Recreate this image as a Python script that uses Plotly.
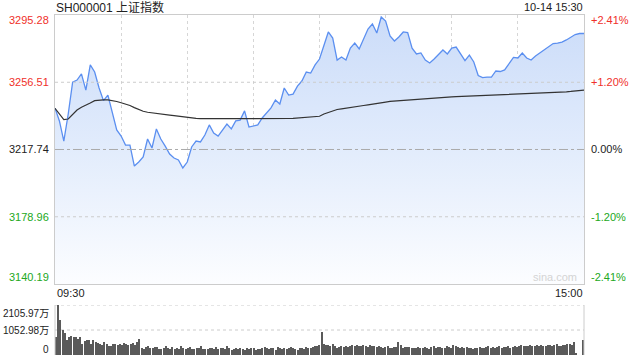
import plotly.graph_objects as go

# ---------------- data ----------------
title_text = "SH000001 上证指数"
date_text = "10-14 15:30"
prev_close = 3217.74
price_ticks = [3295.28, 3256.51, 3217.74, 3178.96, 3140.19]
pct_ticks = ["+2.41%", "+1.20%", "0.00%", "-1.20%", "-2.41%"]
vol_ticks = [2105.97, 1052.98, 0]
vol_tick_labels = ["2105.97万", "1052.98万", "0"]
time_labels = ["09:30", "15:00"]

# minute index (every 2 minutes) for price / average line
price_minutes = list(range(0, 241, 2))
price = [
    3241.6, 3234.2, 3222.6, 3238.2, 3256.6, 3257.8, 3261.3, 3252.0, 3266.5, 3262.4,
    3253.2, 3245.9, 3249.1, 3238.2, 3229.0, 3225.5, 3220.3, 3220.3, 3208.2, 3210.5,
    3213.4, 3223.8, 3218.6, 3229.6, 3223.8, 3219.7, 3215.1, 3212.8, 3211.7, 3207.1,
    3210.5, 3219.2, 3222.6, 3222.1, 3226.1, 3231.9, 3227.2, 3225.5, 3229.0, 3232.4,
    3229.6, 3234.2, 3234.7, 3240.0, 3230.7, 3231.3, 3231.9, 3235.9, 3238.8, 3241.7,
    3246.3, 3244.0, 3253.2, 3249.1, 3249.7, 3254.3, 3257.2, 3262.4, 3261.8, 3266.5,
    3269.9, 3278.3, 3285.5, 3282.0, 3269.3, 3271.1, 3269.3, 3276.2, 3279.1, 3275.7,
    3282.0, 3287.2, 3290.1, 3284.9, 3294.1, 3291.8, 3283.2, 3280.3, 3282.6, 3285.5,
    3285.2, 3276.2, 3272.8, 3273.4, 3269.3, 3267.6, 3269.9, 3272.8, 3275.1, 3272.8,
    3276.2, 3276.8, 3272.8, 3269.0, 3272.2, 3268.2, 3260.4, 3259.2, 3259.5, 3259.5,
    3263.0, 3262.7, 3263.6, 3267.6, 3270.8, 3270.5, 3273.4, 3270.5, 3269.3, 3271.6,
    3273.4, 3275.1, 3276.5, 3278.8, 3279.1, 3279.7, 3280.9, 3282.6, 3284.0, 3284.6,
    3284.6,
]
avg_price = [
    3241.5, 3238.2, 3235.0, 3235.3, 3238.2, 3240.5, 3242.1, 3243.1, 3244.5, 3245.9,
    3246.3, 3246.3, 3246.3, 3246.0, 3245.4, 3244.7, 3244.0, 3243.1, 3241.9, 3240.8,
    3239.8, 3239.2, 3238.8, 3238.5, 3238.2, 3237.9, 3237.6, 3237.3, 3236.9, 3236.6,
    3236.3, 3236.0, 3235.7, 3235.5, 3235.5, 3235.5, 3235.5, 3235.2, 3235.2, 3235.2,
    3235.2, 3235.2, 3235.2, 3235.2, 3235.2, 3235.2, 3235.2, 3235.3, 3235.3, 3235.3,
    3235.3, 3235.3, 3235.3, 3235.6, 3235.7, 3235.9, 3236.0, 3236.2, 3236.3, 3236.6,
    3236.9, 3238.2, 3239.1, 3240.2, 3240.8, 3241.2, 3241.5, 3241.9, 3242.2, 3242.6,
    3243.1, 3243.5, 3244.0, 3244.4, 3244.8, 3245.1, 3245.5, 3245.7, 3246.0, 3246.2,
    3246.4, 3246.7, 3246.8, 3247.0, 3247.2, 3247.3, 3247.4, 3247.6, 3247.8, 3247.9,
    3248.1, 3248.2, 3248.3, 3248.4, 3248.5, 3248.6, 3248.7, 3248.8, 3248.9, 3249.0,
    3249.1, 3249.2, 3249.3, 3249.35, 3249.4, 3249.5, 3249.6, 3249.7, 3249.8, 3249.9,
    3250.0, 3250.1, 3250.3, 3250.4, 3250.6, 3250.7, 3251.0, 3251.2, 3251.5, 3251.7,
    3252.0,
]

# per-minute volume (万)
vol_minutes = list(range(0, 241))
volume = [
    770, 2106, 1474, 1053, 930, 630, 750, 800, 750, 750, 680, 770, 450, 600, 620, 640, 450, 640, 560, 520,
    480, 420, 550, 470, 400, 380, 450, 470, 420, 480, 440, 500, 460, 420, 480, 520, 440, 560, 680, 300,
    260, 320, 380, 280, 300, 340, 320, 260, 240, 300, 360, 280, 240, 320, 260, 300, 240, 360, 280, 260,
    300, 340, 260, 240, 280, 300, 380, 260, 240, 260, 280, 300, 240, 320, 260, 300, 280, 240, 360, 280,
    220, 240, 300, 260, 280, 240, 220, 300, 260, 280, 300, 220, 260, 240, 300, 340, 280, 240, 300, 280,
    220, 320, 280, 260, 300, 240, 280, 340, 300, 260, 220, 300, 280, 260, 320, 280, 300, 340, 360, 400,
    440, 970, 460, 420, 440, 400, 450, 380, 300, 340, 360, 320, 380, 340, 380, 420, 380, 420, 400, 380,
    420, 380, 340, 420, 400, 360, 320, 380, 340, 300, 320, 360, 300, 280, 340, 320, 540, 420, 300, 320,
    340, 320, 280, 300, 280, 320, 300, 280, 340, 300, 260, 340, 360, 300, 320, 340, 280, 300, 380, 320,
    300, 440, 360, 320, 300, 340, 300, 320, 280, 300, 260, 280, 300, 320, 280, 300, 340, 360, 300, 320,
    300, 340, 360, 300, 320, 340, 380, 300, 320, 360, 340, 380, 420, 360, 380, 400, 420, 380, 400, 440,
    380, 420, 400, 380, 420, 440, 400, 420, 460, 380, 400, 440, 420, 460, 480, 420, 560, 80, 0, 0,
    630,
]

# ---------------- layout helpers ----------------
W, H = 640, 360
def px_x(x):
    return x / W
def px_y(y):
    return 1 - y / H

X0, X1 = 55, 584
MAIN_T, MAIN_B = 15, 284
VOL_T, VOL_B = 305, 355

RED = "#f0302a"
GREEN = "#22a822"
DARK = "#222222"
FONT = "Liberation Sans, Arial, sans-serif"

fig = go.Figure()

fig.add_trace(go.Scatter(
    x=[price_minutes[0], price_minutes[-1]], y=[price_ticks[-1], price_ticks[-1]],
    mode="lines", line=dict(width=0, color="rgba(0,0,0,0)"),
    hoverinfo="skip", showlegend=False, xaxis="x", yaxis="y"))
fig.add_trace(go.Scatter(
    x=price_minutes, y=price, mode="lines",
    line=dict(color="#5b8ff0", width=1.3),
    fill="tonexty",
    fillgradient=dict(type="vertical",
                      colorscale=[[0, "rgb(252,253,255)"], [0.5, "rgb(226,236,252)"], [1, "rgb(203,220,249)"]],
                      start=price_ticks[-1], stop=price_ticks[0]),
    showlegend=False, xaxis="x", yaxis="y"))
fig.add_trace(go.Scatter(
    x=price_minutes, y=avg_price, mode="lines",
    line=dict(color="#333333", width=1.2),
    showlegend=False, xaxis="x", yaxis="y"))

fig.add_trace(go.Bar(
    x=vol_minutes, y=volume, width=0.5,
    marker=dict(color="#5a5a5a", line=dict(width=0)),
    showlegend=False, xaxis="x2", yaxis="y2"))

shapes = []
for p in price_ticks[1:-1]:
    is_zero = abs(p - prev_close) < 1e-6
    shapes.append(dict(type="line", xref="paper", yref="y",
                       x0=px_x(X0), x1=px_x(X1), y0=p, y1=p,
                       line=dict(color="#aaaaaa" if is_zero else "#cccccc", width=1,
                                 dash="dashdot" if is_zero else "dot"), layer="above"))
for v in vol_ticks[:-1]:
    shapes.append(dict(type="line", xref="paper", yref="y2",
                       x0=px_x(X0), x1=px_x(X1), y0=v, y1=v,
                       line=dict(color="#cccccc", width=1, dash="dot"), layer="below"))
for xx in (X0, X1):
    shapes.append(dict(type="line", xref="paper", yref="paper",
                       x0=px_x(xx), x1=px_x(xx), y0=px_y(VOL_T), y1=px_y(VOL_B),
                       line=dict(color="#cccccc", width=1)))

annotations = []
ann_font = dict(family=FONT, size=11)
label_colors = [RED, RED, DARK, GREEN, GREEN]
label_shift = [-5, 0, 0, 0, 7]
for p, pct, c, s in zip(price_ticks, pct_ticks, label_colors, label_shift):
    annotations.append(dict(xref="paper", yref="y", x=px_x(51), y=p, yshift=s,
                            text=f"{p:.2f}", showarrow=False, xanchor="right", yanchor="middle",
                            font=dict(ann_font, color=c)))
    annotations.append(dict(xref="paper", yref="y", x=px_x(589), y=p, yshift=s,
                            text=pct, showarrow=False, xanchor="left", yanchor="middle",
                            font=dict(ann_font, color=c)))
vol_shift = [-8, 0, 6]
for v, t, s in zip(vol_ticks, vol_tick_labels, vol_shift):
    annotations.append(dict(xref="paper", yref="y2", x=px_x(51), y=v, yshift=s,
                            text=t, showarrow=False, xanchor="right", yanchor="middle",
                            font=dict(family=FONT + ", Noto Sans CJK SC", size=10, color=DARK)))
annotations.append(dict(xref="paper", yref="paper", x=px_x(55), y=px_y(293),
                        text=time_labels[0], showarrow=False, xanchor="left", yanchor="middle",
                        font=dict(ann_font, color=DARK)))
annotations.append(dict(xref="paper", yref="paper", x=px_x(585), y=px_y(293),
                        text=time_labels[1], showarrow=False, xanchor="right", yanchor="middle",
                        font=dict(ann_font, color=DARK)))
annotations.append(dict(xref="paper", yref="paper", x=px_x(54), y=px_y(7),
                        text=title_text, showarrow=False, xanchor="left", yanchor="middle",
                        font=dict(family=FONT + ", Noto Sans CJK SC", size=12, color=DARK)))
annotations.append(dict(xref="paper", yref="paper", x=px_x(585), y=px_y(7),
                        text=date_text, showarrow=False, xanchor="right", yanchor="middle",
                        font=dict(ann_font, color=DARK)))
annotations.append(dict(xref="paper", yref="paper", x=px_x(579), y=px_y(277),
                        text="sina.com", showarrow=False, xanchor="right", yanchor="middle",
                        font=dict(family=FONT, size=11, color="#d4d4d4")))

fig.update_layout(
    width=W, height=H,
    margin=dict(l=0, r=0, t=0, b=0),
    paper_bgcolor="white", plot_bgcolor="white",
    showlegend=False,
    bargap=0,
    xaxis=dict(domain=[px_x(X0), px_x(X1)], range=[0, 240], anchor="y",
               tickvals=[30, 60, 90, 120, 150, 180, 210], showticklabels=False,
               ticks="", showgrid=True, gridcolor="#d6d6d6", griddash="dot", gridwidth=1,
               zeroline=False, showline=True, mirror=True, linecolor="#cccccc", linewidth=1),
    yaxis=dict(domain=[px_y(MAIN_B), px_y(MAIN_T)], range=[price_ticks[-1], price_ticks[0]],
               anchor="x", showticklabels=False, ticks="", showgrid=False, zeroline=False,
               showline=True, mirror=True, linecolor="#cccccc", linewidth=1),
    xaxis2=dict(domain=[px_x(X0), px_x(X1)], range=[-0.5, 240.5], anchor="y2",
                showticklabels=False, ticks="", showgrid=False, zeroline=False, showline=False),
    yaxis2=dict(domain=[px_y(VOL_B), px_y(VOL_T)], range=[0, vol_ticks[0]], anchor="x2",
                showticklabels=False, ticks="", showgrid=False, zeroline=False, showline=False),
    shapes=shapes, annotations=annotations,
    hovermode=False,
)

fig.write_html(
    "out.html",
    config={"displayModeBar": False},
    post_script="document.body.style.margin='0';document.body.style.padding='0';document.body.style.overflow='hidden';",
)
